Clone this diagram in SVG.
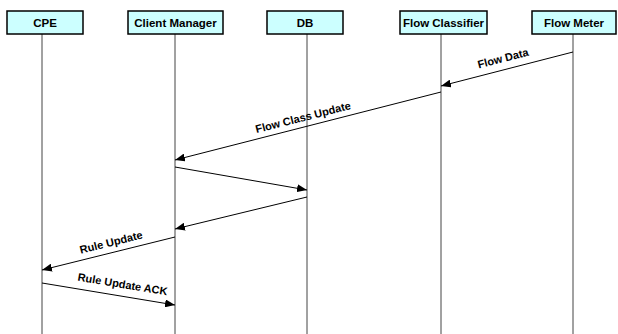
<svg xmlns="http://www.w3.org/2000/svg" width="618" height="334" viewBox="0 0 618 334">
  <style>
    .box { fill: #ccffff; stroke: #000; stroke-width: 1.5; }
    .life { stroke: #444; stroke-width: 1; }
    .title { font-family: "Liberation Sans", Arial, sans-serif; font-weight: bold; font-size: 11.5px; fill: #000; text-anchor: middle; }
    .msg { stroke: #000; stroke-width: 1; fill: none; marker-end: url(#head); }
    .lbl { font-family: "Liberation Sans", Arial, sans-serif; font-weight: bold; font-size: 11px; fill: #000; text-anchor: middle; }
  </style>
  <defs>
    <marker id="head" viewBox="0 0 10 8" refX="10" refY="4" markerWidth="10" markerHeight="8" markerUnits="userSpaceOnUse" orient="auto">
      <path d="M0,0 L10,4 L0,8 Z" fill="#000"/>
    </marker>
  </defs>
  <rect width="618" height="334" fill="#fff"/>

  <g id="cpe">
    <line class="life" x1="42" y1="34" x2="42" y2="334"/>
    <rect class="box" x="7" y="11" width="76" height="23"/>
    <text class="title" x="45" y="27">CPE</text>
  </g>
  <g id="client-manager">
    <line class="life" x1="175" y1="34" x2="175" y2="334"/>
    <rect class="box" x="128" y="11" width="95" height="23"/>
    <text class="title" x="175.5" y="27">Client Manager</text>
  </g>
  <g id="db">
    <line class="life" x1="307" y1="34" x2="307" y2="334"/>
    <rect class="box" x="267" y="11" width="76" height="23"/>
    <text class="title" x="305" y="27">DB</text>
  </g>
  <g id="flow-classifier">
    <line class="life" x1="441" y1="34" x2="441" y2="334"/>
    <rect class="box" x="400" y="11" width="87" height="23"/>
    <text class="title" x="443.5" y="27">Flow Classifier</text>
  </g>
  <g id="flow-meter">
    <line class="life" x1="573" y1="34" x2="573" y2="334"/>
    <rect class="box" x="532" y="11" width="84" height="23"/>
    <text class="title" x="574" y="27">Flow Meter</text>
  </g>

  <g id="connectors">
    <line class="msg" x1="573" y1="52" x2="441" y2="86"/>
    <text class="lbl" transform="translate(504,62) rotate(-14.4)">Flow Data</text>

    <line class="msg" x1="441" y1="92" x2="175" y2="160"/>
    <text class="lbl" transform="translate(304,121) rotate(-14.3)">Flow Class Update</text>

    <line class="msg" x1="175" y1="167" x2="307" y2="190"/>
    <line class="msg" x1="307" y1="197" x2="175" y2="229"/>

    <line class="msg" x1="175" y1="237" x2="42" y2="270"/>
    <text class="lbl" transform="translate(112,246) rotate(-14)">Rule Update</text>

    <line class="msg" x1="42" y1="283" x2="175" y2="305"/>
    <text class="lbl" transform="translate(122,288) rotate(9.4)">Rule Update ACK</text>
  </g>
</svg>
